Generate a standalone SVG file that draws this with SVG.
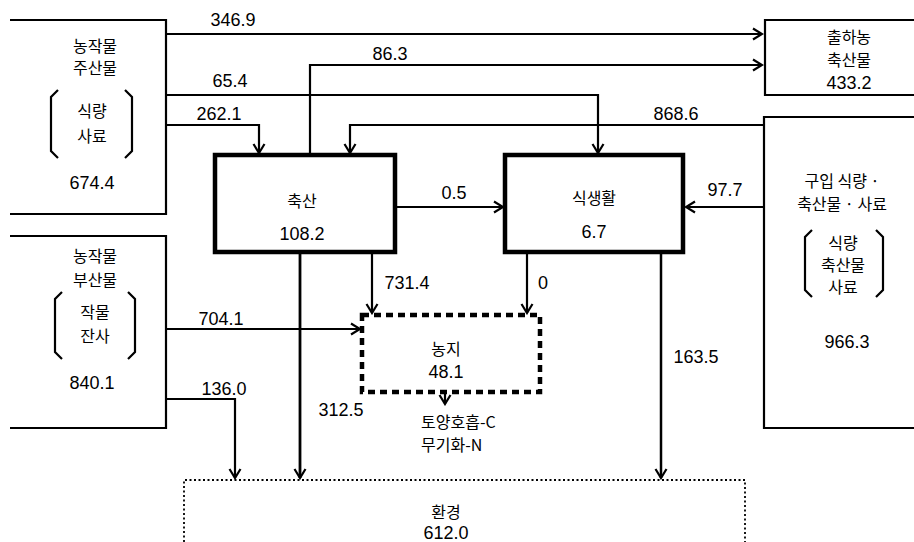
<svg xmlns="http://www.w3.org/2000/svg" width="914" height="542" viewBox="0 0 914 542">
<defs>
<marker id="ah" markerUnits="userSpaceOnUse" markerWidth="14" markerHeight="14" viewBox="-12 -7 14 14" refX="0" refY="0" orient="auto">
<path d="M-9,-5.5 L0,0 L-9,5.5" fill="none" stroke="#000" stroke-width="2.2"/>
</marker>
</defs>
<style>
text{font-family:"Liberation Sans","Noto Sans CJK KR",Arial,sans-serif;font-size:18px;fill:#000;text-anchor:middle}
.k{font-family:"Noto Sans CJK KR","Liberation Sans",sans-serif;font-size:16px}
.src{fill:none;stroke:#000;stroke-width:2.2}
.proc{fill:none;stroke:#000;stroke-width:4.5}
.br{fill:none;stroke:#000;stroke-width:2.2}
.c{fill:none;stroke:#000;stroke-width:2.2}
.l{text-anchor:start}
</style>
<rect width="914" height="542" fill="#fff"/>

<g id="crop-main">
<path class="src" d="M10,20 H166 V214 H10"/>
<text class="k" x="95" y="52">농작물</text>
<text class="k" x="95" y="74">주산물</text>
<path class="br" d="M58,90 L51,97 V151 L58,158"/>
<path class="br" d="M125,90 L132,97 V151 L125,158"/>
<text class="k" x="92" y="117">식량</text>
<text class="k" x="92" y="142">사료</text>
<text x="92" y="189">674.4</text>
</g>

<g id="crop-by">
<path class="src" d="M10,236 H166 V428 H10"/>
<text class="k" x="95" y="262">농작물</text>
<text class="k" x="95" y="286">부산물</text>
<path class="br" d="M62,292 L55,299 V352 L62,359"/>
<path class="br" d="M128,292 L135,299 V352 L128,359"/>
<text class="k" x="95" y="318">작물</text>
<text class="k" x="95" y="342">잔사</text>
<text x="92" y="389">840.1</text>
</g>

<g id="shipped">
<path class="src" d="M914,20 H765 V95 H914"/>
<text class="k" x="849" y="43">출하농</text>
<text class="k" x="849" y="66">축산물</text>
<text x="849" y="89">433.2</text>
</g>

<g id="purchased">
<path class="src" d="M914,117 H764 V428 H914"/>
<text class="k" x="842" y="187">구입 식량 ·</text>
<text class="k" x="842" y="210">축산물 · 사료</text>
<path class="br" d="M812,230 L805,237 V290 L812,297"/>
<path class="br" d="M876,230 L883,237 V290 L876,297"/>
<text class="k" x="843" y="249">식량</text>
<text class="k" x="843" y="271">축산물</text>
<text class="k" x="843" y="293">사료</text>
<text x="847" y="348">966.3</text>
</g>

<g id="livestock">
<rect class="proc" x="215" y="155" width="180" height="97"/>
<text class="k" x="302" y="207">축산</text>
<text x="302" y="240">108.2</text>
</g>

<g id="diet">
<rect class="proc" x="505" y="155" width="178" height="97"/>
<text class="k" x="594" y="204">식생활</text>
<text x="594" y="238">6.7</text>
</g>

<g id="farmland">
<rect x="362" y="315" width="178" height="77" fill="none" stroke="#000" stroke-width="4.5" stroke-dasharray="7,5"/>
<text class="k" x="446" y="355">농지</text>
<text x="446" y="378">48.1</text>
</g>

<g id="soil">
<text class="k l" x="421" y="428">토양호흡-C</text>
<text class="k l" x="421" y="451">무기화-N</text>
</g>

<g id="environment">
<path d="M184,542 V480 H745 V542" fill="none" stroke="#000" stroke-width="1.8" stroke-dasharray="2,2.5"/>
<text class="k" x="446" y="518">환경</text>
<text x="446" y="539">612.0</text>
</g>

<g id="connectors">
<path class="c" d="M166,34 H762" marker-end="url(#ah)"/>
<text x="233" y="26">346.9</text>
<path class="c" d="M310,155 V65 H762" marker-end="url(#ah)"/>
<text x="390" y="60">86.3</text>
<path class="c" d="M166,95 H598 V153" marker-end="url(#ah)"/>
<text x="230" y="87">65.4</text>
<path class="c" d="M166,125 H259 V153" marker-end="url(#ah)"/>
<text x="219" y="120">262.1</text>
<path class="c" d="M764,125 H350 V153" marker-end="url(#ah)"/>
<text x="676" y="120">868.6</text>
<path class="c" d="M395,207 H503" marker-end="url(#ah)"/>
<text x="454" y="199">0.5</text>
<path class="c" d="M764,207 H686" marker-end="url(#ah)"/>
<text x="725" y="196">97.7</text>
<path class="c" d="M166,329 H360" marker-end="url(#ah)"/>
<text x="221" y="325">704.1</text>
<path class="c" d="M166,399 H235 V478" marker-end="url(#ah)"/>
<text x="224" y="395">136.0</text>
<path d="M300,252 V478" fill="none" stroke="#000" stroke-width="2.8" marker-end="url(#ah)"/>
<text x="341" y="416">312.5</text>
<path class="c" d="M372,252 V313" marker-end="url(#ah)"/>
<text x="407" y="289">731.4</text>
<path class="c" d="M527,252 V313" marker-end="url(#ah)"/>
<text x="543" y="289">0</text>
<path class="c" d="M445,392 V404" marker-end="url(#ah)"/>
<path d="M661,252 V478" fill="none" stroke="#000" stroke-width="2.5" marker-end="url(#ah)"/>
<text x="696" y="363">163.5</text>
</g>
</svg>
